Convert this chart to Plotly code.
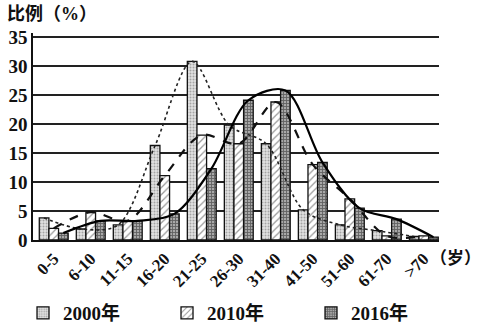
import plotly.graph_objects as go
import numpy as np

categories = ["0-5", "6-10", "11-15", "16-20", "21-25", "26-30", "31-40", "41-50", "51-60", "61-70", ">70"]
v2000 = [3.8, 1.9, 2.6, 16.3, 30.8, 19.8, 16.6, 5.2, 2.6, 1.6, 0.6]
v2010 = [2.0, 4.8, 3.3, 11.1, 18.1, 16.6, 23.8, 13.0, 7.1, 0.7, 0.7]
v2016 = [1.2, 3.3, 3.3, 4.5, 12.3, 24.1, 25.8, 13.4, 5.5, 3.6, 0.5]
series_names = ["<b>2000年</b>", "<b>2010年</b>", "<b>2016年</b>"]
y_ticks = [0, 5, 10, 15, 20, 25, 30, 35]

FONT = "Liberation Serif, Noto Sans CJK SC"
idx = np.arange(len(categories))
W = 0.26
offsets = [-1.5 * W, -0.5 * W, 0.5 * W]

patterns = [
    dict(shape=".", bgcolor="#e2e2e2", fgcolor="#666666", size=3, solidity=0.35),
    dict(shape="/", bgcolor="#ffffff", fgcolor="#333333", size=5, solidity=0.25),
    dict(shape="+", bgcolor="#a8a8a8", fgcolor="#1a1a1a", size=3, solidity=0.5),
]
line_styles = [
    dict(color="#222", width=1.6, dash="dot"),
    dict(color="#111", width=2.2, dash="dash"),
    dict(color="#000", width=2.2, dash="solid"),
]

fig = go.Figure()
data = [v2000, v2010, v2016]
for k in range(3):
    fig.add_trace(go.Bar(
        x=idx, y=data[k], name=series_names[k], width=W, offset=offsets[k],
        marker=dict(color=patterns[k]["bgcolor"], pattern=patterns[k],
                    line=dict(color="#111", width=1.3)),
    ))
for k in range(3):
    fig.add_trace(go.Scatter(
        x=idx + offsets[k] + W / 2, y=data[k], mode="lines",
        line=dict(shape="spline", smoothing=0.9, **line_styles[k]),
        showlegend=False, hoverinfo="skip",
    ))

fig.update_layout(
    width=484, height=326,
    margin=dict(l=33, r=45, t=33, b=86, autoexpand=False),
    paper_bgcolor="white", plot_bgcolor="white",
    barmode="overlay",
    font=dict(family=FONT, size=18, color="#111"),
    showlegend=True,
    legend=dict(orientation="h", x=-0.0246, y=-0.3527, yanchor="middle", xanchor="left",
                font=dict(family=FONT, size=19, color="#111"),
                entrywidthmode="pixels", entrywidth=99, itemwidth=30,
                bgcolor="rgba(0,0,0,0)"),
    xaxis=dict(range=[-0.56, 10.41], tickmode="array", tickvals=idx,
               ticktext=["<b>%s</b>" % c.replace(">", "&gt;") for c in categories],
               tickangle=-45, showgrid=False, zeroline=False, showline=True,
               linecolor="#111", linewidth=2, ticks="", automargin=False,
               tickfont=dict(family=FONT, size=17, color="#111")),
    yaxis=dict(range=[0, 35.7], tickmode="array", tickvals=y_ticks,
               ticktext=["<b>%d</b>" % t for t in y_ticks],
               showgrid=True, gridcolor="#222", gridwidth=1.5, zeroline=False,
               showline=True, linecolor="#111", linewidth=1.5, ticks="", automargin=False,
               tickfont=dict(family=FONT, size=19, color="#111")),
    annotations=[
        dict(text="<b>比例（%）</b>", xref="paper", yref="paper", x=-0.068, y=1.092,
             xanchor="left", yanchor="middle", showarrow=False,
             font=dict(family=FONT, size=18, color="#111")),
        dict(text="<b>（岁）</b>", xref="paper", yref="paper", x=0.972, y=-0.087,
             xanchor="left", yanchor="middle", showarrow=False,
             font=dict(family=FONT, size=17, color="#111")),
    ],
)
fig.write_html("out.html")
